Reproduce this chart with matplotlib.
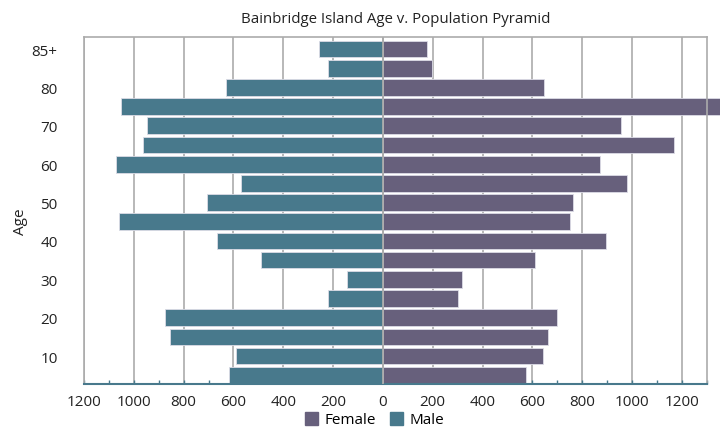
import numpy as np
import matplotlib
matplotlib.use('Agg')
import matplotlib.pyplot as plt
from matplotlib.ticker import MultipleLocator, FuncFormatter
from matplotlib.patches import Patch

plt.rcParams['font.family'] = ['Open Sans', 'DejaVu Sans']

# age groups, bottom (0-4) to top (85+)
age_groups = ['0-4', '5-9', '10-14', '15-19', '20-24', '25-29', '30-34', '35-39',
              '40-44', '45-49', '50-54', '55-59', '60-64', '65-69', '70-74',
              '75-79', '80-84', '85+']
male = [619, 590, 854, 874, 220, 146, 490, 668, 1058, 708, 570, 1072, 963,
        948, 1052, 628, 220, 255]
female = [576, 641, 661, 701, 303, 317, 611, 894, 750, 765, 980, 870, 1169,
          956, 1400, 646, 197, 177]
ytick_idx = [1, 3, 5, 7, 9, 11, 13, 15, 17]
ytick_labels = ['10', '20', '30', '40', '50', '60', '70', '80', '85+']

male_col = '#48798c'
female_col = '#67607c'
grid_col = '#ababab'

fig = plt.figure(figsize=(7.2, 4.31), dpi=100)
ax = fig.add_axes([0.1167, 0.1067, 0.8648, 0.8051])

y = np.arange(len(age_groups))
ax.barh(y, -np.array(male), height=0.87, color=male_col, edgecolor='#dcdce6',
        linewidth=0.6, zorder=2)
ax.barh(y, female, height=0.87, color=female_col, edgecolor='#dcdce6',
        linewidth=0.6, zorder=2, clip_on=False)
ax.axvline(0, color=grid_col, lw=1.3, zorder=3)

ax.set_xlim(-1200, 1300)
ax.set_ylim(-0.453, 17.625)
ax.xaxis.set_major_locator(MultipleLocator(200))
ax.xaxis.set_minor_locator(MultipleLocator(100))
ax.xaxis.set_major_formatter(FuncFormatter(lambda v, p: '%d' % abs(v)))
ax.grid(axis='x', color=grid_col, lw=1.2, zorder=0)
ax.set_axisbelow(True)

ax.set_yticks(ytick_idx)
ax.set_yticklabels(ytick_labels)
ax.tick_params(axis='y', length=0, pad=19, labelsize=11, colors='#222222')
ax.tick_params(axis='x', which='both', direction='in', color=male_col,
               labelsize=11, labelcolor='#222222', pad=7)
ax.tick_params(axis='x', which='major', length=3, width=1)
ax.tick_params(axis='x', which='minor', length=3, width=1)
for s in ['left', 'top', 'right']:
    ax.spines[s].set_color(grid_col)
    ax.spines[s].set_linewidth(1.2)
ax.spines['bottom'].set_color(male_col)
ax.spines['bottom'].set_linewidth(1.5)

ax.set_ylabel('Age', fontsize=11, color='#222222')
ax.yaxis.set_label_coords(-0.09, 0.47)
ax.set_title('Bainbridge Island Age v. Population Pyramid', fontsize=10.8,
             color='#222222', pad=11)

handles = [Patch(color=female_col, label='Female'), Patch(color=male_col, label='Male')]
fig.legend(handles=handles, loc='center', bbox_to_anchor=(0.52, 0.024), ncol=2,
           frameon=False, fontsize=11, handlelength=0.9, handleheight=0.9,
           handletextpad=0.4, columnspacing=0.9)

fig.savefig('out.png', dpi=100)
